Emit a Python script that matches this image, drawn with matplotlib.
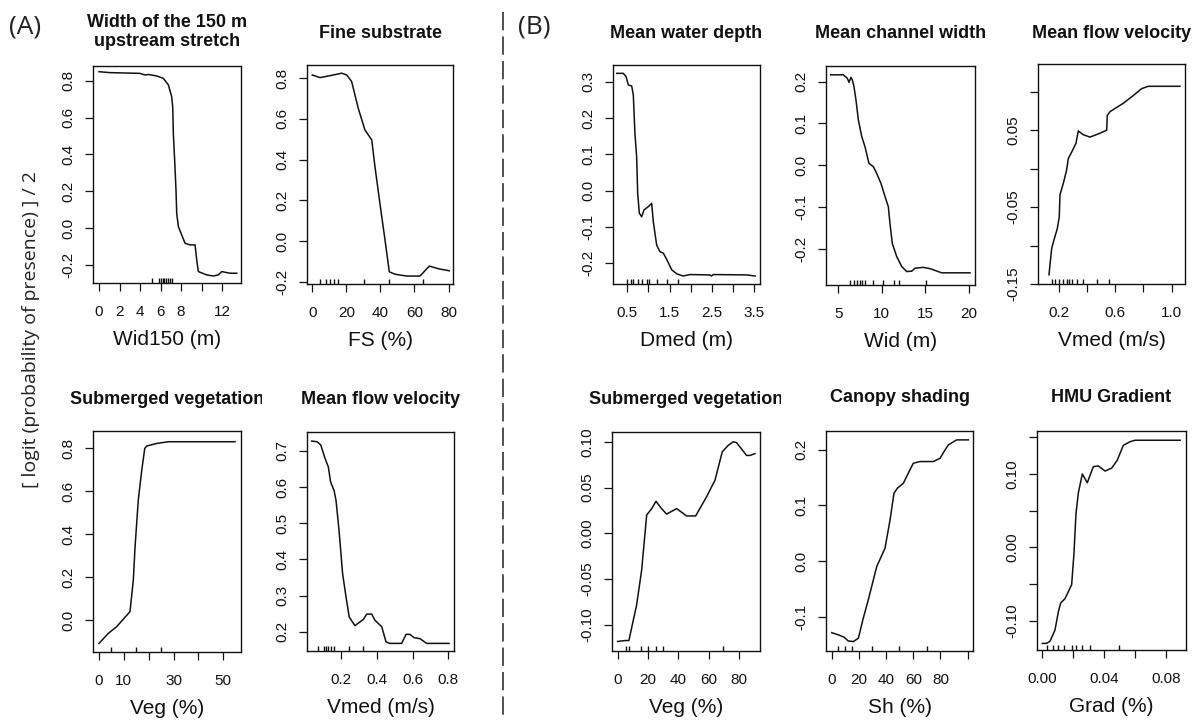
import matplotlib.pyplot as plt
from matplotlib.lines import Line2D
from matplotlib.transforms import Bbox, TransformedBbox

plt.rcParams['font.family'] = ['Liberation Sans', 'DejaVu Sans']

# ---- (A) partial dependence curves ----
wid150_x = [0, 1.07, 4.0, 4.49, 4.8, 5.63, 6.28, 6.77, 7.09, 7.19, 7.25, 7.41, 7.51, 7.58, 7.74,
            8.39, 8.88, 9.37, 9.53, 9.69, 10.5, 11.15, 11.64, 11.97, 12.78, 13.43]
wid150_y = [0.849, 0.844, 0.84, 0.831, 0.834, 0.826, 0.813, 0.777, 0.713, 0.659, 0.515, 0.333, 0.207,
            0.081, 0.008, -0.082, -0.091, -0.091, -0.173, -0.236, -0.254, -0.26, -0.254, -0.236,
            -0.245, -0.245]
wid150_rug = [5.2, 5.9, 6.05, 6.2, 6.35, 6.5, 6.7, 6.93, 7.1]

fs_x = [0, 4.5, 9.4, 15.3, 17.2, 20.2, 23.1, 27.0, 30.9, 34.9, 36.8, 39.7, 42.7, 45.2, 48.5, 55.4,
        63.2, 68.7, 74.0, 80.4]
fs_y = [0.816, 0.803, 0.811, 0.821, 0.825, 0.816, 0.784, 0.652, 0.546, 0.497, 0.365, 0.185, 0.005,
        -0.151, -0.163, -0.172, -0.172, -0.123, -0.136, -0.146]
fs_rug = [4.5, 8, 10.4, 12.9, 14.9, 30.3, 45, 65.1]

vegA_x = [0, 3.75, 7.1, 12.46, 13.8, 14.5, 15.8, 17.2, 18.4, 19.2, 23.2, 27.9, 54.7]
vegA_y = [-0.109, -0.062, -0.031, 0.039, 0.186, 0.341, 0.559, 0.699, 0.8, 0.811, 0.823, 0.831, 0.831]
vegA_rug = [5, 15, 25]

vmedA_x = [0.036, 0.067, 0.087, 0.111, 0.129, 0.142, 0.161, 0.172, 0.189, 0.209, 0.228, 0.246, 0.278,
           0.302, 0.325, 0.344, 0.372, 0.39, 0.428, 0.452, 0.474, 0.539, 0.564, 0.586, 0.608, 0.642,
           0.679, 0.804]
vmedA_y = [0.727, 0.725, 0.716, 0.679, 0.656, 0.614, 0.591, 0.564, 0.481, 0.361, 0.297, 0.241, 0.217,
           0.226, 0.234, 0.249, 0.249, 0.232, 0.214, 0.172, 0.168, 0.168, 0.193, 0.193, 0.184, 0.181,
           0.168, 0.168]
vmedA_rug = [0.073, 0.105, 0.116, 0.129, 0.142, 0.161, 0.246, 0.325]

# ---- (B) partial dependence curves ----
dmed_x = [0.25, 0.405, 0.47, 0.524, 0.604, 0.642, 0.68, 0.72, 0.745, 0.784, 0.84, 0.894, 0.996, 1.076,
          1.114, 1.194, 1.27, 1.35, 1.43, 1.55, 1.667, 1.82, 1.98, 2.45, 2.49, 2.53, 3.32, 3.52]
dmed_y = [0.323, 0.323, 0.314, 0.291, 0.288, 0.263, 0.158, 0.094, -0.007, -0.062, -0.072, -0.053,
          -0.044, -0.035, -0.085, -0.15, -0.168, -0.172, -0.189, -0.218, -0.229, -0.235, -0.231,
          -0.232, -0.235, -0.231, -0.232, -0.235]
dmed_rug = [0.5, 0.59, 0.64, 0.76, 0.84, 0.96, 1.02, 1.19, 1.43, 1.69]

wid_x = [4.13, 5.57, 6.03, 6.23, 6.46, 6.61, 6.8, 7.03, 7.3, 7.69, 8.06, 8.52, 9.02, 9.41, 9.9, 10.36,
         10.74, 10.93, 11.2, 11.7, 12.28, 12.85, 13.43, 13.8, 14.76, 15.53, 16.87, 20.12]
wid_y = [0.216, 0.216, 0.208, 0.198, 0.21, 0.204, 0.188, 0.156, 0.109, 0.069, 0.045, 0.005, -0.003,
         -0.019, -0.043, -0.074, -0.098, -0.138, -0.186, -0.217, -0.241, -0.253, -0.252, -0.245,
         -0.243, -0.246, -0.256, -0.256]
wid_rug = [6.32, 6.84, 7.18, 7.49, 7.76, 8.06, 8.95, 10.17, 11.4, 12.0, 15.07]

vmedB_x = [0.129, 0.148, 0.164, 0.188, 0.202, 0.207, 0.231, 0.254, 0.266, 0.297, 0.321, 0.337, 0.373,
           0.42, 0.491, 0.539, 0.543, 0.562, 0.657, 0.728, 0.787, 0.834, 1.059]
vmedB_y = [-0.138, -0.104, -0.093, -0.078, -0.063, -0.034, -0.019, -0.002, 0.013, 0.024, 0.033, 0.049,
           0.044, 0.041, 0.046, 0.05, 0.069, 0.074, 0.085, 0.095, 0.104, 0.107, 0.107]
vmedB_rug = [0.148, 0.171, 0.2, 0.231, 0.254, 0.273, 0.294, 0.33, 0.373, 0.472, 0.557]

vegB_x = [0, 4.8, 7.4, 12.5, 15.8, 19.1, 22.4, 25.2, 28.9, 32.2, 35.5, 38.8, 45.4, 51.3, 58.5, 64.0,
          68.8, 72.7, 76.0, 78.2, 84.8, 87.0, 90.3]
vegB_y = [-0.118, -0.117, -0.117, -0.078, -0.04, 0.02, 0.027, 0.035, 0.027, 0.021, 0.024, 0.027, 0.019,
          0.019, 0.04, 0.058, 0.089, 0.096, 0.1, 0.099, 0.085, 0.085, 0.087]
vegB_rug = [5.2, 7.4, 15.1, 20.1, 25.0, 30.0, 69.4]

sh_x = [0, 4.9, 9.0, 12.2, 15.9, 19.6, 23.2, 26.9, 33.1, 39.2, 42.9, 45.8, 48.3, 52.7, 56.3, 60.0,
        64.9, 74.7, 79.7, 82.6, 85.8, 91.9, 100.5]
sh_y = [-0.129, -0.133, -0.137, -0.144, -0.145, -0.139, -0.103, -0.07, -0.01, 0.023, 0.074, 0.122,
        0.131, 0.14, 0.158, 0.176, 0.179, 0.179, 0.185, 0.197, 0.209, 0.218, 0.218]
sh_rug = [4.9, 9.8, 14.7, 29.4, 49.7, 69.9]

grad_x = [0, 0.0028, 0.005, 0.0082, 0.0104, 0.0119, 0.0147, 0.019, 0.0205, 0.0218, 0.0233, 0.0259,
          0.0291, 0.033, 0.0362, 0.0406, 0.0449, 0.0485, 0.0524, 0.0567, 0.06, 0.0891]
grad_y = [-0.131, -0.131, -0.128, -0.113, -0.088, -0.076, -0.07, -0.051, -0.008, 0.046, 0.074, 0.1,
          0.088, 0.11, 0.111, 0.104, 0.108, 0.119, 0.139, 0.144, 0.146, 0.146]
grad_rug = [0.0032, 0.0067, 0.0104, 0.014, 0.0194, 0.0218, 0.0255, 0.0309, 0.0499]

# ---- tick labels (blank = tick without label, as R drops overlapping ones) ----
wid150_xt = [0, 2, 4, 6, 8, 10, 12]
wid150_xl = ['0', '2', '4', '6', '8', '', '12']
fs_xt = [0, 20, 40, 60, 80]
fs_xl = ['0', '20', '40', '60', '80']
a_top_yt = [-0.2, 0.0, 0.2, 0.4, 0.6, 0.8]
a_top_yl = ['-0.2', '0.0', '0.2', '0.4', '0.6', '0.8']
vegA_xt = [0, 10, 20, 30, 40, 50]
vegA_xl = ['0', '10', '', '30', '', '50']
vegA_yt = [0.0, 0.2, 0.4, 0.6, 0.8]
vegA_yl = ['0.0', '0.2', '0.4', '0.6', '0.8']
vmedA_xt = [0.2, 0.4, 0.6, 0.8]
vmedA_xl = ['0.2', '0.4', '0.6', '0.8']
vmedA_yt = [0.2, 0.3, 0.4, 0.5, 0.6, 0.7]
vmedA_yl = ['0.2', '0.3', '0.4', '0.5', '0.6', '0.7']
dmed_xt = [0.5, 1.0, 1.5, 2.0, 2.5, 3.0, 3.5]
dmed_xl = ['0.5', '', '1.5', '', '2.5', '', '3.5']
dmed_yt = [-0.2, -0.1, 0.0, 0.1, 0.2, 0.3]
dmed_yl = ['-0.2', '-0.1', '0.0', '0.1', '0.2', '0.3']
wid_xt = [5, 10, 15, 20]
wid_xl = ['5', '10', '15', '20']
wid_yt = [-0.2, -0.1, 0.0, 0.1, 0.2]
wid_yl = ['-0.2', '-0.1', '0.0', '0.1', '0.2']
vmedB_xt = [0.2, 0.4, 0.6, 0.8, 1.0]
vmedB_xl = ['0.2', '', '0.6', '', '1.0']
vmedB_yt = [-0.15, -0.10, -0.05, 0.0, 0.05, 0.10]
vmedB_yl = ['-0.15', '', '-0.05', '', '0.05', '']
vegB_xt = [0, 20, 40, 60, 80]
vegB_xl = ['0', '20', '40', '60', '80']
vegB_yt = [-0.10, -0.05, 0.0, 0.05, 0.10]
vegB_yl = ['-0.10', '-0.05', '0.00', '0.05', '0.10']
sh_xt = [0, 20, 40, 60, 80, 100]
sh_xl = ['0', '20', '40', '60', '80', '']
sh_yt = [-0.1, 0.0, 0.1, 0.2]
sh_yl = ['-0.1', '0.0', '0.1', '0.2']
grad_xt = [0.0, 0.02, 0.04, 0.06, 0.08]
grad_xl = ['0.00', '', '0.04', '', '0.08']
grad_yt = [-0.10, -0.05, 0.0, 0.05, 0.10, 0.15]
grad_yl = ['-0.10', '', '0.00', '', '0.10', '']

W, H = 1194, 720
fig = plt.figure(figsize=(W / 100, H / 100), dpi=100)
INK = '#111111'

# box in pixels (left, top, right, bottom), limits, title, x label
panels = [
    dict(box=(93, 66, 241, 283), xlim=(-0.585, 13.85), ylim=(-0.298, 0.88),
         x=wid150_x, y=wid150_y, rug=wid150_rug, xt=wid150_xt, xl=wid150_xl, yt=a_top_yt, yl=a_top_yl,
         title='Width of the 150 m\nupstream stretch', ty=32, xlabel='Wid150 (m)'),
    dict(box=(307, 65, 453, 284), xlim=(-3.1, 82.6), ylim=(-0.211, 0.865),
         x=fs_x, y=fs_y, rug=fs_rug, xt=fs_xt, xl=fs_xl, yt=a_top_yt, yl=a_top_yl,
         title='Fine substrate', ty=33, xlabel='FS (%)'),
    dict(box=(93, 431, 241, 652), xlim=(-2.41, 57.1), ylim=(-0.149, 0.881),
         x=vegA_x, y=vegA_y, rug=vegA_rug, xt=vegA_xt, xl=vegA_xl, yt=vegA_yt, yl=vegA_yl,
         title='Submerged vegetation', ty=400, xlabel='Veg (%)', clip=262),
    dict(box=(307, 432, 454, 651), xlim=(0.01, 0.832), ylim=(0.147, 0.752),
         x=vmedA_x, y=vmedA_y, rug=vmedA_rug, xt=vmedA_xt, xl=vmedA_xl, yt=vmedA_yt, yl=vmedA_yl,
         title='Mean flow velocity', ty=400, xlabel='Vmed (m/s)'),
    dict(box=(613, 65, 760, 284), xlim=(0.162, 3.635), ylim=(-0.257, 0.346),
         x=dmed_x, y=dmed_y, rug=dmed_rug, xt=dmed_xt, xl=dmed_xl, yt=dmed_yt, yl=dmed_yl,
         title='Mean water depth', ty=33, xlabel='Dmed (m)'),
    dict(box=(826, 66, 975, 285), xlim=(3.59, 20.69), ylim=(-0.285, 0.237),
         x=wid_x, y=wid_y, rug=wid_rug, xt=wid_xt, xl=wid_xl, yt=wid_yt, yl=wid_yl,
         title='Mean channel width', ty=33, xlabel='Wid (m)'),
    dict(box=(1038, 64, 1185, 284), xlim=(0.051, 1.095), ylim=(-0.15, 0.136),
         x=vmedB_x, y=vmedB_y, rug=vmedB_rug, xt=vmedB_xt, xl=vmedB_xl, yt=vmedB_yt, yl=vmedB_yl,
         title='Mean flow velocity', ty=33, xlabel='Vmed (m/s)'),
    dict(box=(612, 432, 760, 651), xlim=(-3.7, 93.6), ylim=(-0.1284, 0.1106),
         x=vegB_x, y=vegB_y, rug=vegB_rug, xt=vegB_xt, xl=vegB_xl, yt=vegB_yt, yl=vegB_yl,
         title='Submerged vegetation', ty=400, xlabel='Veg (%)', clip=781),
    dict(box=(826, 431, 973, 651), xlim=(-4.2, 103.9), ylim=(-0.162, 0.234),
         x=sh_x, y=sh_y, rug=sh_rug, xt=sh_xt, xl=sh_xl, yt=sh_yt, yl=sh_yl,
         title='Canopy shading', ty=398, xlabel='Sh (%)'),
    dict(box=(1037, 431, 1186, 650), xlim=(-0.0034, 0.0929), ylim=(-0.14, 0.1586),
         x=grad_x, y=grad_y, rug=grad_rug, xt=grad_xt, xl=grad_xl, yt=grad_yt, yl=grad_yl,
         title='HMU Gradient', ty=398, xlabel='Grad (%)'),
]

for p in panels:
    left, top, right, bottom = p['box']
    ax = fig.add_axes([left / W, 1 - bottom / H, (right - left) / W, (bottom - top) / H])
    ax.plot(p['x'], p['y'], color=INK, lw=1.1)
    ax.vlines(p['rug'], 0, 0.022, color=INK, lw=1.0, transform=ax.get_xaxis_transform())
    ax.set_xlim(*p['xlim'])
    ax.set_ylim(*p['ylim'])
    ax.set_xticks(p['xt'])
    ax.set_xticklabels(p['xl'])
    ax.set_yticks(p['yt'])
    ax.set_yticklabels(p['yl'], rotation=90, va='center')
    ax.tick_params(direction='out', length=5.5, width=0.9, labelsize=11, colors=INK)
    ax.tick_params(axis='x', pad=10)
    ax.tick_params(axis='y', pad=7)
    for s in ax.spines.values():
        s.set_linewidth(1.0)
        s.set_color(INK)
    ax.set_xlabel(p['xlabel'], fontsize=15, labelpad=8, color=INK)

    t = fig.text((left + right) / 2 / W, 1 - p['ty'] / H, p['title'], ha='center', va='center',
                 fontsize=13, fontweight='bold', color=INK, linespacing=1.1)
    if 'clip' in p:
        t.set_clip_box(TransformedBbox(Bbox([[0, 0], [p['clip'] / W, 1]]), fig.transFigure))
        t.set_clip_on(True)

fig.text(31 / W, 1 - 330 / H, '[ logit (probability of presence) ] / 2', rotation=90,
         ha='center', va='center', fontsize=14, family=['Open Sans', 'DejaVu Sans'], color='#222222')
fig.text(25 / W, 1 - 27 / H, '(A)', ha='center', va='center', fontsize=19,
         family=['Open Sans', 'DejaVu Sans'], color='#222222')
fig.text(534 / W, 1 - 27 / H, '(B)', ha='center', va='center', fontsize=19,
         family=['Open Sans', 'DejaVu Sans'], color='#222222')

fig.add_artist(Line2D([503 / W, 503 / W], [1 - 12 / H, 0], transform=fig.transFigure,
                      color='#222222', lw=1.1, dashes=(12, 4)))

fig.savefig('out.png', dpi=100, facecolor='white')
